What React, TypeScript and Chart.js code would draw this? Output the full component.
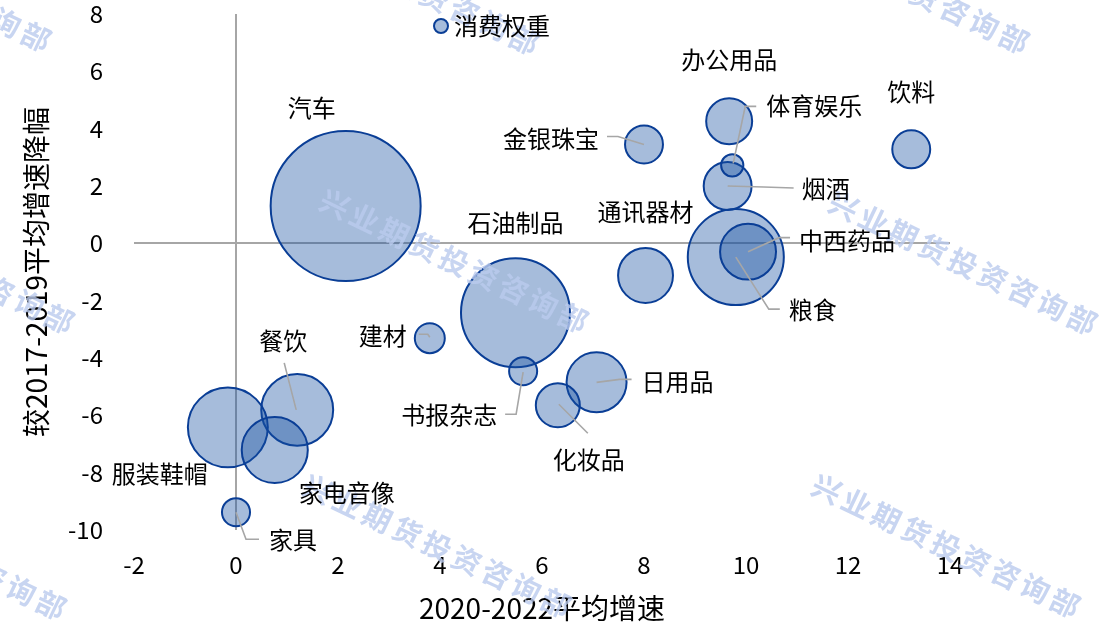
import React, { useEffect, useRef } from "react";
import { Chart, registerables } from "chart.js";

Chart.register(...registerables);

// ---------- data ----------
const CATEGORIES = [
  "汽车", "石油制品", "粮食", "中西药品", "通讯器材", "烟酒", "体育娱乐", "办公用品", "金银珠宝",
  "饮料", "建材", "书报杂志", "日用品", "化妆品", "餐饮", "服装鞋帽", "家电音像", "家具",
];
// 2020-2022 平均增速 (x)
const GROWTH_2020_2022 = [
  2.15, 5.48, 9.8, 10.04, 8.03, 9.64, 9.73, 9.67, 8.0,
  13.24, 3.8, 5.63, 7.07, 6.31, 1.2, -0.16, 0.76, 0.0,
];
// 较2017-2019平均增速降幅 (y)
const DECLINE_VS_2017_2019 = [
  1.3, -2.42, -0.48, -0.29, -1.12, 2.0, 2.72, 4.26, 3.45,
  3.28, -3.31, -4.46, -4.85, -5.65, -5.81, -6.42, -7.21, -9.38,
];
// 消费权重 (bubble size)
const CONSUMPTION_WEIGHT = [
  10.0, 5.28, 4.1, 1.39, 1.34, 1.02, 0.22, 0.94, 0.64,
  0.64, 0.4, 0.35, 1.6, 0.86, 2.3, 2.84, 1.94, 0.35,
];
const X_TICKS = [-2, 0, 2, 4, 6, 8, 10, 12, 14];
const Y_TICKS = [-10, -8, -6, -4, -2, 0, 2, 4, 6, 8];
const SERIES_NAME = "消费权重";
const X_TITLE = "2020-2022平均增速";
const Y_TITLE = "较2017-2019平均增速降幅";
const WATERMARK = "兴业期货投资咨询部";

// ---------- layout / style (not data) ----------
const FONT = '"Noto Sans CJK SC", "Noto Sans", sans-serif';
const MAX_BUBBLE_RADIUS = 75;
const FILL = "rgba(20, 78, 160, 0.38)";
const BORDER = "rgb(10, 62, 150)";
const LEADER = "#A6A6A6";

type Pt = [number, number];
// label text centre offset from bubble centre, with optional leader polyline (offsets)
const LABEL_LAYOUT: Record<string, { dx: number; dy: number; leader?: Pt[] }> = {
  汽车: { dx: -34, dy: -98 },
  石油制品: { dx: 0, dy: -90 },
  粮食: { dx: 77, dy: 53, leader: [[44, 52], [33, 52], [0, 0]] },
  中西药品: { dx: 99, dy: -11, leader: [[42, -14], [31, -14], [0, 0]] },
  通讯器材: { dx: 0, dy: -64 },
  烟酒: { dx: 98, dy: 3, leader: [[66, 2], [36, 1], [0, 0]] },
  体育娱乐: { dx: 82, dy: -59, leader: [[24, -59], [13, -59], [1, -2]] },
  办公用品: { dx: 0, dy: -61 },
  金银珠宝: { dx: -93, dy: -6, leader: [[-37, -8], [-26, -8], [0, 0]] },
  饮料: { dx: 0, dy: -57 },
  建材: { dx: -47, dy: -2, leader: [[-11, -4], [-2, -4], [0, -1]] },
  书报杂志: { dx: -74, dy: 44, leader: [[-18, 43], [-7, 43], [0, 1]] },
  日用品: { dx: 81, dy: 0, leader: [[35, -3], [23, -3], [0, 0]] },
  化妆品: { dx: 31, dy: 55, leader: [[30, 28], [1, -1]] },
  餐饮: { dx: -14, dy: -69, leader: [[-13, -47], [-1, 0]] },
  服装鞋帽: { dx: -68, dy: 47 },
  家电音像: { dx: 72, dy: 43 },
  家具: { dx: 57, dy: 28, leader: [[23, 27], [10, 27], [0, 0]] },
};

const WATERMARK_CENTRES: Pt[] = [
  [-83, -20], [405, -17], [895, -18],
  [-60, 262], [454, 261], [963, 263],
  [-68, 548], [437, 546], [946, 546],
];

const overlayPlugin = {
  id: "overlay",
  afterDatasetsDraw(chart: any) {
    const ctx: CanvasRenderingContext2D = chart.ctx;
    const meta = chart.getDatasetMeta(0);
    const area = chart.chartArea;

    // watermark
    ctx.save();
    const ang = (25.5 * Math.PI) / 180;
    ctx.font = `bold 29px ${FONT}`;
    ctx.fillStyle = "rgba(186, 203, 238, 0.8)";
    ctx.textAlign = "center";
    ctx.textBaseline = "middle";
    const chars = Array.from(WATERMARK);
    WATERMARK_CENTRES.forEach(([cx, cy]) => {
      chars.forEach((ch, i) => {
        const t = (i - (chars.length - 1) / 2) * 33;
        ctx.save();
        ctx.translate(cx + t * Math.cos(ang), cy + t * Math.sin(ang));
        ctx.rotate(ang);
        ctx.fillText(ch, 0, 0);
        ctx.restore();
      });
    });
    ctx.restore();

    // leader lines + labels
    ctx.save();
    ctx.font = `24px ${FONT}`;
    ctx.textAlign = "center";
    ctx.textBaseline = "middle";
    CATEGORIES.forEach((name, i) => {
      const el = meta.data[i];
      if (!el) return;
      const lay = LABEL_LAYOUT[name];
      if (!lay) return;
      if (lay.leader) {
        ctx.beginPath();
        lay.leader.forEach(([dx, dy], k) => {
          if (k === 0) ctx.moveTo(el.x + dx, el.y + dy);
          else ctx.lineTo(el.x + dx, el.y + dy);
        });
        ctx.strokeStyle = LEADER;
        ctx.lineWidth = 1.6;
        ctx.stroke();
      }
      ctx.fillStyle = "#000";
      ctx.fillText(name, el.x + lay.dx, el.y + lay.dy);
    });
    ctx.restore();

    // legend (series name) overlaid at top of plot
    ctx.save();
    const lx = area.left + 307;
    const ly = area.top + 12;
    ctx.beginPath();
    ctx.arc(lx, ly, 7, 0, Math.PI * 2);
    ctx.fillStyle = FILL;
    ctx.fill();
    ctx.lineWidth = 2;
    ctx.strokeStyle = BORDER;
    ctx.stroke();
    ctx.font = `24px ${FONT}`;
    ctx.fillStyle = "#000";
    ctx.textAlign = "left";
    ctx.textBaseline = "middle";
    ctx.fillText(SERIES_NAME, lx + 13, ly);
    ctx.restore();
  },
};

export default function App() {
  const ref = useRef<HTMLCanvasElement | null>(null);

  useEffect(() => {
    document.body.style.margin = "0";
    const canvas = ref.current;
    if (!canvas) return;
    const maxW = Math.max(...CONSUMPTION_WEIGHT);
    const data = CATEGORIES.map((_, i) => ({
      x: GROWTH_2020_2022[i],
      y: DECLINE_VS_2017_2019[i],
      r: MAX_BUBBLE_RADIUS * Math.sqrt(CONSUMPTION_WEIGHT[i] / maxW),
    }));
    const zeroGrid = (c: any) => (c.tick && c.tick.value === 0 ? "#A6A6A6" : "rgba(0,0,0,0)");

    const chart = new Chart(canvas, {
      type: "bubble",
      data: {
        datasets: [
          {
            label: SERIES_NAME,
            data,
            backgroundColor: FILL,
            borderColor: BORDER,
            borderWidth: 2,
            clip: false,
          },
        ],
      },
      options: {
        responsive: false,
        animation: false,
        events: [],
        layout: { autoPadding: false, padding: { top: 14, right: 162, bottom: 0, left: 0 } },
        plugins: {
          legend: { display: false },
          tooltip: { enabled: false },
        },
        scales: {
          x: {
            type: "linear",
            min: X_TICKS[0],
            max: X_TICKS[X_TICKS.length - 1],
            afterBuildTicks: (s: any) => {
              s.ticks = X_TICKS.map((v) => ({ value: v }));
            },
            afterFit: (s: any) => {
              s.height = 101;
              s.paddingLeft = 0;
              s.paddingRight = 0;
            },
            border: { display: false },
            grid: { color: zeroGrid, lineWidth: 2, drawTicks: false },
            ticks: {
              padding: 20,
              color: "#000",
              font: { size: 24, family: FONT },
              callback: (v: any) => String(v),
              maxRotation: 0,
            },
            title: {
              display: true,
              text: X_TITLE,
              color: "#000",
              font: { size: 28, family: FONT },
              padding: { top: 0, bottom: 6 },
            },
          },
          y: {
            type: "linear",
            min: Y_TICKS[0],
            max: Y_TICKS[Y_TICKS.length - 1],
            afterBuildTicks: (s: any) => {
              s.ticks = Y_TICKS.map((v) => ({ value: v }));
            },
            afterFit: (s: any) => {
              s.width = 134;
              s.paddingTop = 0;
              s.paddingBottom = 0;
            },
            border: { display: false },
            grid: { color: zeroGrid, lineWidth: 2, drawTicks: false },
            ticks: {
              padding: 31,
              color: "#000",
              font: { size: 24, family: FONT },
              callback: (v: any) => String(v),
            },
            title: {
              display: true,
              text: Y_TITLE,
              color: "#000",
              font: { size: 28, family: FONT },
              padding: { top: 20, bottom: 0 },
            },
          },
        },
      } as any,
      plugins: [overlayPlugin],
    });
    return () => chart.destroy();
  }, []);

  return (
    <div style={{ position: "absolute", left: 0, top: 0, width: 1112, height: 631, background: "#fff" }}>
      <canvas ref={ref} width={1112} height={631} style={{ display: "block" }} />
    </div>
  );
}
